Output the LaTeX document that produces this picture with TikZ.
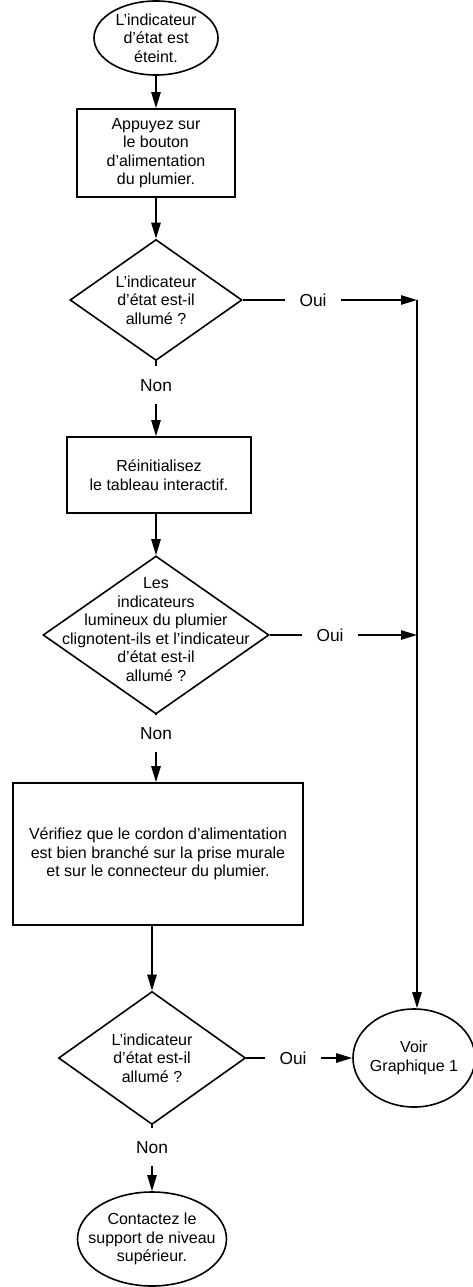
\documentclass[tikz,border=0pt]{standalone}
\usepackage{fontspec}
\setmainfont{Liberation Sans}
\usetikzlibrary{shapes.geometric,arrows.meta}

\begin{document}
\begin{tikzpicture}[x=0.75pt,y=-0.75pt,
    every node/.style={font=\fontsize{12}{13.9}\selectfont},
    txt/.style={align=center},
    term/.style={draw,ellipse,line width=1.2pt,inner sep=0pt},
    proc/.style={draw,rectangle,line width=1.2pt,inner sep=0pt,align=center},
    decision/.style={draw,diamond,line width=1.2pt,inner sep=0pt},
    ans/.style={font=\fontsize{13}{15}\selectfont,inner xsep=11pt,inner ysep=9pt,
        text height=9.5pt,text depth=0pt},
    line/.style={line width=1.2pt},
    flow/.style={line width=1.2pt,-{Triangle[length=12pt,width=7pt]}}]

\useasboundingbox (0,0) rectangle (473,1287);

% main column
\node[term,minimum width=93pt,minimum height=55.5pt,
    label={[txt]center:L’indicateur\\d’état est\\éteint.}] (start) at (156,38) {};
\node[proc,minimum width=118.5pt,minimum height=66pt] (press) at (156,153)
    {Appuyez sur\\le bouton\\d’alimentation\\du plumier.};
\node[decision,minimum width=129pt,minimum height=90.75pt,
    label={[txt]center:L’indicateur\\d’état est-il\\allumé ?}] (q1) at (156,300) {};
\node[ans] (non1) at (156,385) {Non};
\node[proc,minimum width=138pt,minimum height=57pt] (reset) at (159,475)
    {Réinitialisez\\le tableau interactif.};
\node[decision,minimum width=169.5pt,minimum height=118.5pt,
    label={[txt,yshift=4pt]center:Les\\indicateurs\\lumineux du plumier\\clignotent-ils et l’indicateur\\d’état est-il\\allumé ?}] (q2) at (156,635) {};
\node[ans] (non2) at (156,733) {Non};
\node[proc,minimum width=217.5pt,minimum height=106.5pt] (cable) at (158,854)
    {Vérifiez que le cordon d’alimentation\\est bien branché sur la prise murale\\et sur le connecteur du plumier.};
\node[decision,minimum width=140.25pt,minimum height=99.75pt,
    label={[txt]center:L’indicateur\\d’état est-il\\allumé ?}] (q3) at (152,1058) {};
\node[ans] (non3) at (152,1147) {Non};
\node[term,minimum width=111.75pt,minimum height=70.5pt,
    label={[txt]center:Contactez le\\support de niveau\\supérieur.}] (support) at (152,1239) {};

% right column
\node[ans] (oui1) at (313,300) {Oui};
\node[ans] (oui2) at (330,635) {Oui};
\node[ans] (oui3) at (293,1058) {Oui};
\node[term,minimum width=91.5pt,minimum height=73.5pt,
    label={[txt]center:Voir\\Graphique 1}] (voir) at (414,1058) {};

\coordinate (r1) at (417,300);
\coordinate (r2) at (417,635);

\draw[flow] (start) -- (press);
\draw[flow] (press) -- (q1);
\draw[line] (q1) -- (non1);
\draw[flow] (non1) -- (non1 |- reset.north);
\draw[flow] (reset.south -| q2) -- (q2);
\draw[line] (q2) -- (non2);
\draw[flow] (non2) -- (non2 |- cable.north);
\draw[flow] (q3 |- cable.south) -- (q3);
\draw[line] (q3) -- (non3);
\draw[flow] (non3) -- (support);

\foreach \i in {1,2}
    \draw[line] (q\i) -- (oui\i);
\draw[line] (q3) -- (oui3);
\draw[flow] (oui1) -- (r1);
\draw[flow] (oui2) -- (r2);
\draw[flow] (r1) -- (r1 |- voir.north);
\draw[flow] (oui3) -- (voir);

\end{tikzpicture}
\end{document}
